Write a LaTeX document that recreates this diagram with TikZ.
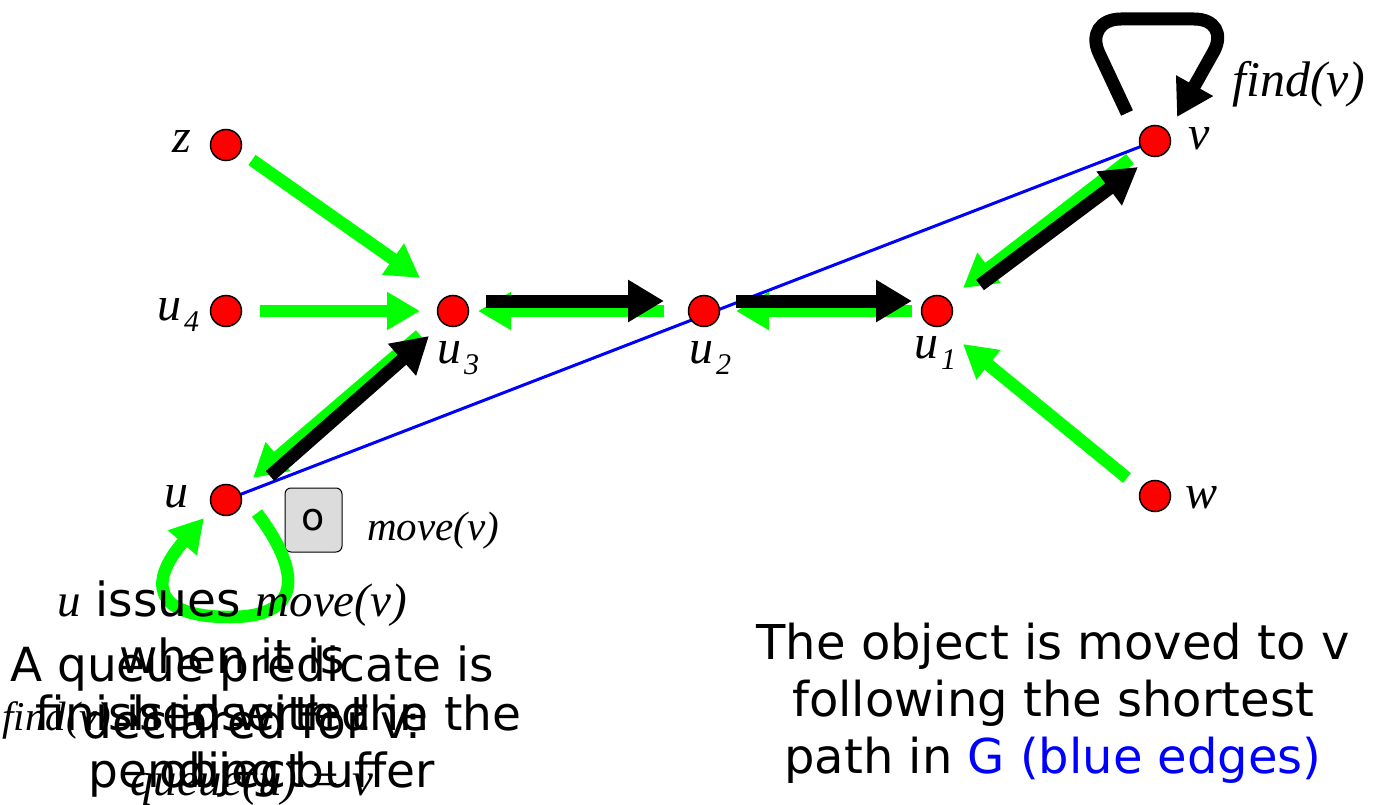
\documentclass[tikz,border=0pt]{standalone}
\usepackage{fontspec}
\setmainfont{DejaVu Sans}
\newfontfamily\tim{Liberation Serif}
\usetikzlibrary{arrows.meta,backgrounds}
\definecolor{gr}{RGB}{0,255,0}
\definecolor{nodered}{RGB}{255,0,0}
\definecolor{boxgray}{RGB}{220,220,220}
\newcommand\sbs[1]{\kern3pt\raisebox{-0.24em}{\fontsize{30}{30}\selectfont #1}}
\begin{document}
\begin{tikzpicture}[x=1pt,y=-1pt,
  vtx/.style={circle,draw=black,line width=1.5pt,fill=nodered,minimum size=31pt,inner sep=0pt},
  garrow/.style={draw=gr,line width=12.5pt,-{Triangle[length=33pt,width=36pt]}},
  barrow/.style={draw=black,line width=13pt,-{Triangle[length=36pt,width=40pt]}},
  blueedge/.style={draw=blue,line width=3pt},
  lab/.style={font=\fontsize{48}{48}\selectfont\tim\itshape,inner sep=0pt},
  txt/.style={font=\fontsize{47}{56.7}\selectfont,align=center,inner sep=0pt},
  obox/.style={draw=black,line width=1pt,rounded corners=6pt,fill=boxgray,minimum width=57pt,minimum height=64pt,inner sep=0pt,font=\fontsize{38}{38}\selectfont}
]
\useasboundingbox (0,0) rectangle (1373,805);
% vertices
\node[vtx] (z)  at (226,145) {};
\node[vtx] (u4) at (226,311) {};
\node[vtx] (u3) at (453,311) {};
\node[vtx] (u2) at (704,311) {};
\node[vtx] (u1) at (937,311) {};
\node[vtx] (v)  at (1155,141) {};
\node[vtx] (w)  at (1155,496) {};
\node[vtx] (u)  at (226,500) {};
% blue edge of G
\begin{scope}[on background layer]
\draw[blueedge] (u.center) -- (v.center);
\end{scope}
% labels
\node[lab,anchor=base] (lz) at (182,153) {z};
\node[lab,anchor=base west] (lu4) at (157,320) {u\sbs{4}};
\node[lab,anchor=base west] (lu3) at (437,363) {u\sbs{3}};
\node[lab,anchor=base west] (lu2) at (689,363) {u\sbs{2}};
\node[lab,anchor=base west] (lu1) at (914,358) {u\sbs{1}};
\node[lab,anchor=base west] (lv) at (1188,150) {v};
\node[lab,anchor=base west] (lw) at (1185,508) {w};
\node[lab,anchor=base west] (lu) at (164,507) {u};
\node[lab,anchor=base west,font=\fontsize{50}{50}\selectfont\tim\itshape] (lfind) at (1232,97) {find(v)};
\node[lab,anchor=base west,font=\fontsize{41}{41}\selectfont\tim\itshape] (lmove) at (367,540) {move(v)};
\node[obox] (obj) at (313.5,520) {\raisebox{-6pt}{o}};
% green arrows
\draw[garrow] ([shift={(26,15)}]z.center) -- ([shift={(-33,-33)}]u3.center);
\draw[garrow] ([shift={(34,0)}]u4.center) -- ([shift={(-33,0)}]u3.center);
\draw[garrow] ([shift={(-40,0)}]u2.center) -- ([shift={(25,0)}]u3.center);
\draw[garrow] ([shift={(-25,0)}]u1.center) -- ([shift={(32,0)}]u2.center);
\draw[garrow] ([shift={(-25,18)}]v.center) -- ([shift={(26,-23)}]u1.center);
\draw[garrow] ([shift={(-28,-18)}]w.center) -- ([shift={(26,33)}]u1.center);
\draw[garrow] ([shift={(-33,24)}]u3.center) -- ([shift={(27,-22)}]u.center);
\draw[garrow] ([shift={(31,13)}]u.center) .. controls (300,570) and (305,617) .. (230,617)
  .. controls (150,617) and (150,580) .. ([shift={(-22,18)}]u.center);
% black arrows
\draw[barrow] ([shift={(33,-10)}]u3.center) -- ([shift={(-40,-10)}]u2.center);
\draw[barrow] ([shift={(32,-10)}]u2.center) -- ([shift={(-25,-10)}]u1.center);
\draw[barrow] ([shift={(43,-26)}]u1.center) -- ([shift={(-17,26)}]v.center);
\draw[barrow] ([shift={(44,-24)}]u.center) -- ([shift={(-24,25)}]u3.center);
\draw[barrow,rounded corners=38pt] ([shift={(-28,-28)}]v.center) -- (1083,19) -- (1232,19) -- ([shift={(22,-24)}]v.center);
% texts (anchor = baseline of the last line)
\node[txt,anchor=base] (tb) at (232,787) {{\tim\itshape u} issues {\tim\itshape move(v)}\\when it is\\finished with the\\object};
\node[txt,anchor=base] (tc) at (262,787) {{\fontsize{41}{41}\selectfont\tim\itshape find(v)} is inserted in the\\pending buffer};
\node[txt,anchor=base] (ta) at (252,795) {A queue predicate is\\declared for v:\\{\tim\itshape queue(u) = v}};
\node[txt,anchor=base,font=\fontsize{48}{57}\selectfont] (tr) at (1053,773) {The object is moved to v\\following the shortest\\path in \textcolor{blue}{G (blue edges)}};
\end{tikzpicture}
\end{document}
